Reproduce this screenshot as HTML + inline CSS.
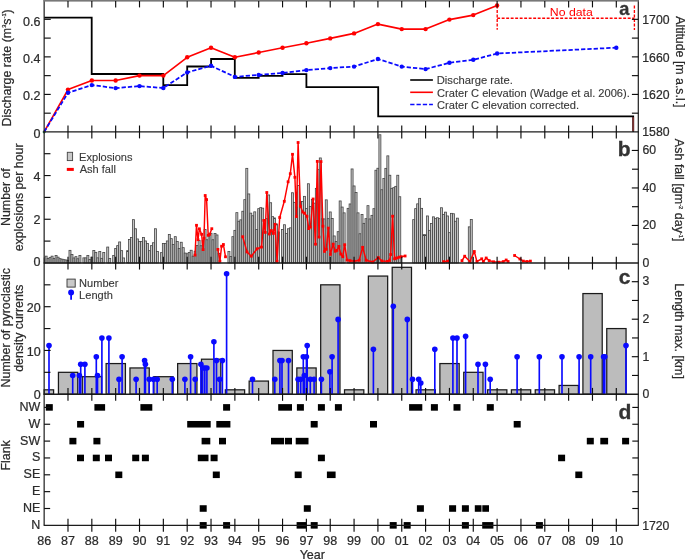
<!DOCTYPE html>
<html lang="en">
<head>
<meta charset="utf-8">
<title>Eruption time series</title>
<style>
html,body{margin:0;padding:0;background:#fff;}
body{width:685px;height:560px;overflow:hidden;}
svg{display:block;will-change:transform;}
</style>
</head>
<body>
<svg width="685" height="560" viewBox="0 0 685 560" font-family="'Liberation Sans', Arial, Helvetica, sans-serif" font-size="12" fill="#2a2a2a">
<style>text{stroke:#2a2a2a;stroke-width:0.22px;paint-order:stroke;}</style>
<rect x="0" y="0" width="685" height="560" fill="#ffffff"/>
<g fill="#c6c6c6" stroke="#444444" stroke-width="0.8">
<rect x="44.15" y="257.95" width="0.99" height="5"/>
<rect x="45.14" y="256.15" width="1.99" height="6.8"/>
<rect x="47.13" y="258.45" width="1.99" height="4.5"/>
<rect x="49.12" y="257.35" width="1.99" height="5.6"/>
<rect x="51.1" y="256.15" width="1.99" height="6.8"/>
<rect x="53.09" y="258.45" width="1.99" height="4.5"/>
<rect x="55.08" y="255.55" width="1.99" height="7.4"/>
<rect x="57.06" y="257.15" width="1.99" height="5.8"/>
<rect x="59.05" y="258.65" width="1.99" height="4.3"/>
<rect x="61.04" y="259.15" width="1.99" height="3.8"/>
<rect x="63.02" y="259.65" width="1.99" height="3.3"/>
<rect x="65.01" y="259.95" width="1.99" height="3"/>
<rect x="67" y="260.45" width="1.99" height="2.5"/>
<rect x="68.98" y="250.35" width="1.99" height="12.6"/>
<rect x="70.97" y="254.55" width="1.99" height="8.4"/>
<rect x="72.96" y="257.95" width="1.99" height="5"/>
<rect x="74.94" y="256.65" width="1.99" height="6.3"/>
<rect x="76.93" y="258.75" width="1.99" height="4.2"/>
<rect x="78.92" y="255.45" width="1.99" height="7.5"/>
<rect x="82.89" y="257.85" width="1.99" height="5.1"/>
<rect x="84.88" y="257.85" width="1.99" height="5.1"/>
<rect x="86.86" y="255.45" width="1.99" height="7.5"/>
<rect x="88.85" y="259.55" width="1.99" height="3.4"/>
<rect x="90.84" y="257.15" width="1.99" height="5.8"/>
<rect x="92.82" y="250.55" width="1.99" height="12.4"/>
<rect x="94.81" y="252.35" width="1.99" height="10.6"/>
<rect x="96.8" y="257.85" width="1.99" height="5.1"/>
<rect x="98.78" y="251.55" width="1.99" height="11.4"/>
<rect x="100.77" y="258.35" width="1.99" height="4.6"/>
<rect x="102.76" y="252.55" width="1.99" height="10.4"/>
<rect x="106.73" y="247.05" width="1.99" height="15.9"/>
<rect x="108.72" y="258.55" width="1.99" height="4.4"/>
<rect x="112.69" y="255.45" width="1.99" height="7.5"/>
<rect x="114.68" y="248.55" width="1.99" height="14.4"/>
<rect x="116.66" y="245.65" width="1.99" height="17.3"/>
<rect x="118.65" y="241.95" width="1.99" height="21"/>
<rect x="120.64" y="250.65" width="1.99" height="12.3"/>
<rect x="122.62" y="257.95" width="1.99" height="5"/>
<rect x="126.6" y="250.65" width="1.99" height="12.3"/>
<rect x="128.58" y="239.55" width="1.99" height="23.4"/>
<rect x="130.57" y="237.45" width="1.99" height="25.5"/>
<rect x="132.56" y="219.65" width="1.99" height="43.3"/>
<rect x="134.54" y="228.75" width="1.99" height="34.2"/>
<rect x="136.53" y="238.95" width="1.99" height="24"/>
<rect x="138.52" y="241.55" width="1.99" height="21.4"/>
<rect x="140.5" y="241.55" width="1.99" height="21.4"/>
<rect x="142.49" y="237.45" width="1.99" height="25.5"/>
<rect x="144.48" y="240.95" width="1.99" height="22"/>
<rect x="146.46" y="243.55" width="1.99" height="19.4"/>
<rect x="148.45" y="250.65" width="1.99" height="12.3"/>
<rect x="150.44" y="245.65" width="1.99" height="17.3"/>
<rect x="152.42" y="242.75" width="1.99" height="20.2"/>
<rect x="154.41" y="228.75" width="1.99" height="34.2"/>
<rect x="156.4" y="251.55" width="1.99" height="11.4"/>
<rect x="160.37" y="252.65" width="1.99" height="10.3"/>
<rect x="162.36" y="243.55" width="1.99" height="19.4"/>
<rect x="164.34" y="243.55" width="1.99" height="19.4"/>
<rect x="166.33" y="240.95" width="1.99" height="22"/>
<rect x="168.32" y="234.55" width="1.99" height="28.4"/>
<rect x="170.3" y="238.65" width="1.99" height="24.3"/>
<rect x="172.29" y="244.45" width="1.99" height="18.5"/>
<rect x="174.28" y="236.65" width="1.99" height="26.3"/>
<rect x="176.26" y="241.55" width="1.99" height="21.4"/>
<rect x="178.25" y="248.55" width="1.99" height="14.4"/>
<rect x="180.24" y="242.25" width="1.99" height="20.7"/>
<rect x="182.22" y="247.65" width="1.99" height="15.3"/>
<rect x="184.21" y="253.05" width="1.99" height="9.9"/>
<rect x="186.2" y="253.75" width="1.99" height="9.2"/>
<rect x="188.18" y="252.45" width="1.99" height="10.5"/>
<rect x="190.17" y="250.25" width="1.99" height="12.7"/>
<rect x="192.16" y="256.15" width="1.99" height="6.8"/>
<rect x="194.14" y="251.25" width="1.99" height="11.7"/>
<rect x="196.13" y="245.45" width="1.99" height="17.5"/>
<rect x="198.12" y="240.35" width="1.99" height="22.6"/>
<rect x="200.1" y="245.75" width="1.99" height="17.2"/>
<rect x="202.09" y="240.35" width="1.99" height="22.6"/>
<rect x="204.08" y="229.55" width="1.99" height="33.4"/>
<rect x="206.06" y="239.75" width="1.99" height="23.2"/>
<rect x="208.05" y="235.95" width="1.99" height="27"/>
<rect x="210.04" y="233.25" width="1.99" height="29.7"/>
<rect x="212.02" y="239.75" width="1.99" height="23.2"/>
<rect x="214.01" y="233.45" width="1.99" height="29.5"/>
<rect x="216" y="234.95" width="1.99" height="28"/>
<rect x="217.98" y="253.45" width="1.99" height="9.5"/>
<rect x="227.92" y="251.55" width="1.99" height="11.4"/>
<rect x="229.9" y="256.55" width="1.99" height="6.4"/>
<rect x="231.89" y="236.65" width="1.99" height="26.3"/>
<rect x="233.88" y="230.35" width="1.99" height="32.6"/>
<rect x="235.86" y="212.65" width="1.99" height="50.3"/>
<rect x="237.85" y="221.25" width="1.99" height="41.7"/>
<rect x="239.84" y="219.85" width="1.99" height="43.1"/>
<rect x="241.82" y="211.25" width="1.99" height="51.7"/>
<rect x="243.81" y="199.65" width="1.99" height="63.3"/>
<rect x="245.8" y="168.35" width="1.99" height="94.6"/>
<rect x="247.78" y="193.95" width="1.99" height="69"/>
<rect x="249.77" y="213.15" width="1.99" height="49.8"/>
<rect x="251.76" y="215.75" width="1.99" height="47.2"/>
<rect x="253.74" y="211.85" width="1.99" height="51.1"/>
<rect x="255.73" y="229.55" width="1.99" height="33.4"/>
<rect x="257.72" y="208.65" width="1.99" height="54.3"/>
<rect x="259.7" y="207.65" width="1.99" height="55.3"/>
<rect x="261.69" y="208.15" width="1.99" height="54.8"/>
<rect x="263.68" y="222.95" width="1.99" height="40"/>
<rect x="265.66" y="218.65" width="1.99" height="44.3"/>
<rect x="267.65" y="194.95" width="1.99" height="68"/>
<rect x="269.64" y="202.75" width="1.99" height="60.2"/>
<rect x="271.62" y="216.65" width="1.99" height="46.3"/>
<rect x="273.61" y="217.95" width="1.99" height="45"/>
<rect x="275.6" y="223.95" width="1.99" height="39"/>
<rect x="277.58" y="231.95" width="1.99" height="31"/>
<rect x="281.56" y="229.55" width="1.99" height="33.4"/>
<rect x="283.54" y="224.75" width="1.99" height="38.2"/>
<rect x="285.53" y="233.55" width="1.99" height="29.4"/>
<rect x="287.52" y="228.75" width="1.99" height="34.2"/>
<rect x="289.5" y="227.85" width="1.99" height="35.1"/>
<rect x="291.49" y="192.75" width="1.99" height="70.2"/>
<rect x="293.48" y="202.35" width="1.99" height="60.6"/>
<rect x="295.46" y="206.95" width="1.99" height="56"/>
<rect x="297.45" y="185.45" width="1.99" height="77.5"/>
<rect x="299.44" y="201.95" width="1.99" height="61"/>
<rect x="301.42" y="201.55" width="1.99" height="61.4"/>
<rect x="303.41" y="196.35" width="1.99" height="66.6"/>
<rect x="305.4" y="208.45" width="1.99" height="54.5"/>
<rect x="307.38" y="183.75" width="1.99" height="79.2"/>
<rect x="309.37" y="206.45" width="1.99" height="56.5"/>
<rect x="311.36" y="199.45" width="1.99" height="63.5"/>
<rect x="313.34" y="203.15" width="1.99" height="59.8"/>
<rect x="315.33" y="188.35" width="1.99" height="74.6"/>
<rect x="317.32" y="169.65" width="1.99" height="93.3"/>
<rect x="319.3" y="157.95" width="1.99" height="105"/>
<rect x="321.29" y="218.85" width="1.99" height="44.1"/>
<rect x="323.28" y="218.95" width="1.99" height="44"/>
<rect x="325.26" y="199.85" width="1.99" height="63.1"/>
<rect x="327.25" y="218.65" width="1.99" height="44.3"/>
<rect x="329.24" y="211.95" width="1.99" height="51"/>
<rect x="331.22" y="218.45" width="1.99" height="44.5"/>
<rect x="333.21" y="235.95" width="1.99" height="27"/>
<rect x="335.2" y="241.45" width="1.99" height="21.5"/>
<rect x="337.18" y="231.65" width="1.99" height="31.3"/>
<rect x="339.17" y="200.95" width="1.99" height="62"/>
<rect x="341.16" y="207.05" width="1.99" height="55.9"/>
<rect x="343.14" y="212.85" width="1.99" height="50.1"/>
<rect x="347.12" y="208.35" width="1.99" height="54.6"/>
<rect x="349.1" y="203.95" width="1.99" height="59"/>
<rect x="351.09" y="168.95" width="1.99" height="94"/>
<rect x="353.08" y="185.95" width="1.99" height="77"/>
<rect x="355.06" y="192.55" width="1.99" height="70.4"/>
<rect x="357.05" y="212.85" width="1.99" height="50.1"/>
<rect x="359.04" y="233.75" width="1.99" height="29.2"/>
<rect x="361.02" y="214.45" width="1.99" height="48.5"/>
<rect x="363.01" y="223.35" width="1.99" height="39.6"/>
<rect x="365" y="218.65" width="1.99" height="44.3"/>
<rect x="366.98" y="205.65" width="1.99" height="57.3"/>
<rect x="368.97" y="218.95" width="1.99" height="44"/>
<rect x="370.96" y="215.35" width="1.99" height="47.6"/>
<rect x="372.94" y="208.65" width="1.99" height="54.3"/>
<rect x="374.93" y="170.25" width="1.99" height="92.7"/>
<rect x="376.92" y="168.25" width="1.99" height="94.7"/>
<rect x="378.9" y="134.75" width="1.99" height="128.2"/>
<rect x="380.89" y="189.75" width="1.99" height="73.2"/>
<rect x="382.88" y="178.45" width="1.99" height="84.5"/>
<rect x="384.86" y="168.35" width="1.99" height="94.6"/>
<rect x="386.85" y="155.85" width="1.99" height="107.1"/>
<rect x="388.84" y="175.25" width="1.99" height="87.7"/>
<rect x="390.82" y="188.35" width="1.99" height="74.6"/>
<rect x="392.81" y="187.65" width="1.99" height="75.3"/>
<rect x="394.8" y="186.35" width="1.99" height="76.6"/>
<rect x="396.78" y="175.25" width="1.99" height="87.7"/>
<rect x="398.77" y="196.75" width="1.99" height="66.2"/>
<rect x="412.68" y="219.65" width="1.99" height="43.3"/>
<rect x="414.66" y="208.65" width="1.99" height="54.3"/>
<rect x="416.65" y="203.85" width="1.99" height="59.1"/>
<rect x="418.64" y="198.35" width="1.99" height="64.6"/>
<rect x="420.62" y="208.35" width="1.99" height="54.6"/>
<rect x="422.61" y="234.65" width="1.99" height="28.3"/>
<rect x="424.6" y="234.75" width="1.99" height="28.2"/>
<rect x="426.58" y="215.95" width="1.99" height="47"/>
<rect x="428.57" y="230.35" width="1.99" height="32.6"/>
<rect x="430.56" y="223.55" width="1.99" height="39.4"/>
<rect x="432.54" y="216.85" width="1.99" height="46.1"/>
<rect x="434.53" y="218.65" width="1.99" height="44.3"/>
<rect x="436.52" y="217.75" width="1.99" height="45.2"/>
<rect x="438.5" y="218.65" width="1.99" height="44.3"/>
<rect x="440.49" y="207.75" width="1.99" height="55.2"/>
<rect x="442.48" y="214.55" width="1.99" height="48.4"/>
<rect x="444.46" y="212.15" width="1.99" height="50.8"/>
<rect x="446.45" y="215.95" width="1.99" height="47"/>
<rect x="448.44" y="232.65" width="1.99" height="30.3"/>
<rect x="450.42" y="213.35" width="1.99" height="49.6"/>
<rect x="452.41" y="213.75" width="1.99" height="49.2"/>
<rect x="454.4" y="221.25" width="1.99" height="41.7"/>
<rect x="456.38" y="218.15" width="1.99" height="44.8"/>
<rect x="468.3" y="226.85" width="1.99" height="36.1"/>
<rect x="470.29" y="219.55" width="1.99" height="43.4"/>
</g>
<g fill="#bcbcbc" stroke="#1a1a1a" stroke-width="1.25">
<rect x="44.15" y="389.82" width="9.45" height="4.38"/>
<rect x="58.44" y="372.32" width="19.3" height="21.88"/>
<rect x="82.28" y="376.7" width="19.3" height="17.5"/>
<rect x="106.12" y="363.57" width="19.3" height="30.62"/>
<rect x="129.96" y="367.95" width="19.3" height="26.25"/>
<rect x="153.8" y="376.7" width="19.3" height="17.5"/>
<rect x="177.64" y="363.57" width="19.3" height="30.62"/>
<rect x="201.48" y="359.2" width="19.3" height="35"/>
<rect x="225.32" y="389.82" width="19.3" height="4.38"/>
<rect x="249.16" y="381.07" width="19.3" height="13.12"/>
<rect x="273" y="350.45" width="19.3" height="43.75"/>
<rect x="296.84" y="367.95" width="19.3" height="26.25"/>
<rect x="320.68" y="284.82" width="19.3" height="109.38"/>
<rect x="344.52" y="389.82" width="19.3" height="4.38"/>
<rect x="368.36" y="276.07" width="19.3" height="118.12"/>
<rect x="392.2" y="267.32" width="19.3" height="126.88"/>
<rect x="416.04" y="389.82" width="19.3" height="4.38"/>
<rect x="439.88" y="363.57" width="19.3" height="30.62"/>
<rect x="463.72" y="372.32" width="19.3" height="21.88"/>
<rect x="487.56" y="389.82" width="19.3" height="4.38"/>
<rect x="511.4" y="389.82" width="19.3" height="4.38"/>
<rect x="535.24" y="389.82" width="19.3" height="4.38"/>
<rect x="559.08" y="385.45" width="19.3" height="8.75"/>
<rect x="582.92" y="293.57" width="19.3" height="100.62"/>
<rect x="606.76" y="328.57" width="19.3" height="65.62"/>
</g>
<g stroke="#0a0aff" stroke-width="1.65" fill="#0a0aff">
<line x1="49" y1="345.58" x2="49" y2="394.2"/>
<line x1="72.7" y1="375.5" x2="72.7" y2="394.2"/>
<line x1="79.4" y1="375.5" x2="79.4" y2="394.2"/>
<line x1="80.7" y1="364.28" x2="80.7" y2="394.2"/>
<line x1="84.9" y1="364.28" x2="84.9" y2="394.2"/>
<line x1="96.3" y1="356.8" x2="96.3" y2="394.2"/>
<line x1="97.5" y1="375.5" x2="97.5" y2="394.2"/>
<line x1="101.9" y1="338.1" x2="101.9" y2="394.2"/>
<line x1="108.9" y1="338.1" x2="108.9" y2="394.2"/>
<line x1="119" y1="379.24" x2="119" y2="394.2"/>
<line x1="122.1" y1="356.8" x2="122.1" y2="394.2"/>
<line x1="136.1" y1="379.24" x2="136.1" y2="394.2"/>
<line x1="144.6" y1="360.54" x2="144.6" y2="394.2"/>
<line x1="145.4" y1="364.28" x2="145.4" y2="394.2"/>
<line x1="149.2" y1="379.24" x2="149.2" y2="394.2"/>
<line x1="153.4" y1="379.24" x2="153.4" y2="394.2"/>
<line x1="157.2" y1="379.24" x2="157.2" y2="394.2"/>
<line x1="172.3" y1="379.24" x2="172.3" y2="394.2"/>
<line x1="184.9" y1="379.24" x2="184.9" y2="394.2"/>
<line x1="190.6" y1="356.8" x2="190.6" y2="394.2"/>
<line x1="195.2" y1="379.24" x2="195.2" y2="394.2"/>
<line x1="200.9" y1="364.28" x2="200.9" y2="394.2"/>
<line x1="202.7" y1="368.02" x2="202.7" y2="394.2"/>
<line x1="204.8" y1="368.02" x2="204.8" y2="394.2"/>
<line x1="206.9" y1="368.02" x2="206.9" y2="394.2"/>
<line x1="213.9" y1="341.84" x2="213.9" y2="394.2"/>
<line x1="216.5" y1="360.54" x2="216.5" y2="394.2"/>
<line x1="219.6" y1="379.24" x2="219.6" y2="394.2"/>
<line x1="222.4" y1="360.54" x2="222.4" y2="394.2"/>
<line x1="226.6" y1="273.77" x2="226.6" y2="394.2"/>
<line x1="252.5" y1="379.24" x2="252.5" y2="394.2"/>
<line x1="274.8" y1="379.24" x2="274.8" y2="394.2"/>
<line x1="279.9" y1="360.54" x2="279.9" y2="394.2"/>
<line x1="282" y1="360.54" x2="282" y2="394.2"/>
<line x1="288.5" y1="360.54" x2="288.5" y2="394.2"/>
<line x1="298.1" y1="379.24" x2="298.1" y2="394.2"/>
<line x1="300.7" y1="379.24" x2="300.7" y2="394.2"/>
<line x1="303.3" y1="356.8" x2="303.3" y2="394.2"/>
<line x1="304.3" y1="375.5" x2="304.3" y2="394.2"/>
<line x1="306.4" y1="356.8" x2="306.4" y2="394.2"/>
<line x1="307.2" y1="345.58" x2="307.2" y2="394.2"/>
<line x1="310.3" y1="379.24" x2="310.3" y2="394.2"/>
<line x1="314.1" y1="379.24" x2="314.1" y2="394.2"/>
<line x1="321.4" y1="379.24" x2="321.4" y2="394.2"/>
<line x1="329.9" y1="371.76" x2="329.9" y2="394.2"/>
<line x1="332.1" y1="356.8" x2="332.1" y2="394.2"/>
<line x1="338.1" y1="319.4" x2="338.1" y2="394.2"/>
<line x1="373.4" y1="349.32" x2="373.4" y2="394.2"/>
<line x1="393.3" y1="306.31" x2="393.3" y2="394.2"/>
<line x1="407.3" y1="319.4" x2="407.3" y2="394.2"/>
<line x1="412.5" y1="379.24" x2="412.5" y2="394.2"/>
<line x1="418.7" y1="379.24" x2="418.7" y2="394.2"/>
<line x1="420.8" y1="382.98" x2="420.8" y2="394.2"/>
<line x1="434.8" y1="349.32" x2="434.8" y2="394.2"/>
<line x1="452.9" y1="338.1" x2="452.9" y2="394.2"/>
<line x1="457" y1="338.1" x2="457" y2="394.2"/>
<line x1="465.6" y1="336.23" x2="465.6" y2="394.2"/>
<line x1="478" y1="364.28" x2="478" y2="394.2"/>
<line x1="485.4" y1="364.28" x2="485.4" y2="394.2"/>
<line x1="490.2" y1="379.24" x2="490.2" y2="394.2"/>
<line x1="517.1" y1="356.8" x2="517.1" y2="394.2"/>
<line x1="539.3" y1="356.8" x2="539.3" y2="394.2"/>
<line x1="562" y1="356.8" x2="562" y2="394.2"/>
<line x1="579.1" y1="356.8" x2="579.1" y2="394.2"/>
<line x1="590.7" y1="356.8" x2="590.7" y2="394.2"/>
<line x1="603.6" y1="356.8" x2="603.6" y2="394.2"/>
<line x1="604.8" y1="356.8" x2="604.8" y2="394.2"/>
<line x1="626" y1="345.58" x2="626" y2="394.2"/>
</g>
<g fill="#0a0aff">
<circle cx="49" cy="345.58" r="2.8"/>
<circle cx="72.7" cy="375.5" r="2.8"/>
<circle cx="79.4" cy="375.5" r="2.8"/>
<circle cx="80.7" cy="364.28" r="2.8"/>
<circle cx="84.9" cy="364.28" r="2.8"/>
<circle cx="96.3" cy="356.8" r="2.8"/>
<circle cx="97.5" cy="375.5" r="2.8"/>
<circle cx="101.9" cy="338.1" r="2.8"/>
<circle cx="108.9" cy="338.1" r="2.8"/>
<circle cx="119" cy="379.24" r="2.8"/>
<circle cx="122.1" cy="356.8" r="2.8"/>
<circle cx="136.1" cy="379.24" r="2.8"/>
<circle cx="144.6" cy="360.54" r="2.8"/>
<circle cx="145.4" cy="364.28" r="2.8"/>
<circle cx="149.2" cy="379.24" r="2.8"/>
<circle cx="153.4" cy="379.24" r="2.8"/>
<circle cx="157.2" cy="379.24" r="2.8"/>
<circle cx="172.3" cy="379.24" r="2.8"/>
<circle cx="184.9" cy="379.24" r="2.8"/>
<circle cx="190.6" cy="356.8" r="2.8"/>
<circle cx="195.2" cy="379.24" r="2.8"/>
<circle cx="200.9" cy="364.28" r="2.8"/>
<circle cx="202.7" cy="368.02" r="2.8"/>
<circle cx="204.8" cy="368.02" r="2.8"/>
<circle cx="206.9" cy="368.02" r="2.8"/>
<circle cx="213.9" cy="341.84" r="2.8"/>
<circle cx="216.5" cy="360.54" r="2.8"/>
<circle cx="219.6" cy="379.24" r="2.8"/>
<circle cx="222.4" cy="360.54" r="2.8"/>
<circle cx="226.6" cy="273.77" r="2.8"/>
<circle cx="252.5" cy="379.24" r="2.8"/>
<circle cx="274.8" cy="379.24" r="2.8"/>
<circle cx="279.9" cy="360.54" r="2.8"/>
<circle cx="282" cy="360.54" r="2.8"/>
<circle cx="288.5" cy="360.54" r="2.8"/>
<circle cx="298.1" cy="379.24" r="2.8"/>
<circle cx="300.7" cy="379.24" r="2.8"/>
<circle cx="303.3" cy="356.8" r="2.8"/>
<circle cx="304.3" cy="375.5" r="2.8"/>
<circle cx="306.4" cy="356.8" r="2.8"/>
<circle cx="307.2" cy="345.58" r="2.8"/>
<circle cx="310.3" cy="379.24" r="2.8"/>
<circle cx="314.1" cy="379.24" r="2.8"/>
<circle cx="321.4" cy="379.24" r="2.8"/>
<circle cx="329.9" cy="371.76" r="2.8"/>
<circle cx="332.1" cy="356.8" r="2.8"/>
<circle cx="338.1" cy="319.4" r="2.8"/>
<circle cx="373.4" cy="349.32" r="2.8"/>
<circle cx="393.3" cy="306.31" r="2.8"/>
<circle cx="407.3" cy="319.4" r="2.8"/>
<circle cx="412.5" cy="379.24" r="2.8"/>
<circle cx="418.7" cy="379.24" r="2.8"/>
<circle cx="420.8" cy="382.98" r="2.8"/>
<circle cx="434.8" cy="349.32" r="2.8"/>
<circle cx="452.9" cy="338.1" r="2.8"/>
<circle cx="457" cy="338.1" r="2.8"/>
<circle cx="465.6" cy="336.23" r="2.8"/>
<circle cx="478" cy="364.28" r="2.8"/>
<circle cx="485.4" cy="364.28" r="2.8"/>
<circle cx="490.2" cy="379.24" r="2.8"/>
<circle cx="517.1" cy="356.8" r="2.8"/>
<circle cx="539.3" cy="356.8" r="2.8"/>
<circle cx="562" cy="356.8" r="2.8"/>
<circle cx="579.1" cy="356.8" r="2.8"/>
<circle cx="590.7" cy="356.8" r="2.8"/>
<circle cx="603.6" cy="356.8" r="2.8"/>
<circle cx="604.8" cy="356.8" r="2.8"/>
<circle cx="626" cy="345.58" r="2.8"/>
</g>
<g fill="#000000">
<rect x="45.8" y="404.13" width="7" height="6.55"/>
<rect x="94.4" y="404.13" width="10.7" height="6.55"/>
<rect x="140.4" y="404.13" width="11.9" height="6.55"/>
<rect x="223.1" y="404.13" width="7" height="6.55"/>
<rect x="278.2" y="404.13" width="13.8" height="6.55"/>
<rect x="296.9" y="404.13" width="7" height="6.55"/>
<rect x="317.9" y="404.13" width="7" height="6.55"/>
<rect x="334.9" y="404.13" width="7" height="6.55"/>
<rect x="409.1" y="404.13" width="13.2" height="6.55"/>
<rect x="430.9" y="404.13" width="7" height="6.55"/>
<rect x="453.5" y="404.13" width="7" height="6.55"/>
<rect x="486.8" y="404.13" width="7" height="6.55"/>
<rect x="77.1" y="420.98" width="7" height="6.55"/>
<rect x="187.2" y="420.98" width="23.5" height="6.55"/>
<rect x="216.3" y="420.98" width="14.1" height="6.55"/>
<rect x="310.7" y="420.98" width="7" height="6.55"/>
<rect x="370" y="420.98" width="7" height="6.55"/>
<rect x="513.7" y="420.98" width="7" height="6.55"/>
<rect x="69.4" y="437.83" width="7" height="6.55"/>
<rect x="93.4" y="437.83" width="7" height="6.55"/>
<rect x="201.6" y="437.83" width="8.7" height="6.55"/>
<rect x="219" y="437.83" width="7" height="6.55"/>
<rect x="271" y="437.83" width="13.1" height="6.55"/>
<rect x="285" y="437.83" width="7" height="6.55"/>
<rect x="295.7" y="437.83" width="12.8" height="6.55"/>
<rect x="586.8" y="437.83" width="7" height="6.55"/>
<rect x="600.3" y="437.83" width="7.8" height="6.55"/>
<rect x="622.1" y="437.83" width="7" height="6.55"/>
<rect x="77" y="454.68" width="7" height="6.55"/>
<rect x="92.8" y="454.68" width="7" height="6.55"/>
<rect x="105" y="454.68" width="7" height="6.55"/>
<rect x="132.2" y="454.68" width="7" height="6.55"/>
<rect x="141.9" y="454.68" width="7" height="6.55"/>
<rect x="197.8" y="454.68" width="10.7" height="6.55"/>
<rect x="210.6" y="454.68" width="7" height="6.55"/>
<rect x="317.9" y="454.68" width="7" height="6.55"/>
<rect x="558.1" y="454.68" width="7" height="6.55"/>
<rect x="115.3" y="471.53" width="7" height="6.55"/>
<rect x="212.8" y="471.53" width="7" height="6.55"/>
<rect x="294.7" y="471.53" width="7" height="6.55"/>
<rect x="326.9" y="471.53" width="8.7" height="6.55"/>
<rect x="575.3" y="471.53" width="7" height="6.55"/>
<rect x="199.7" y="505.23" width="7" height="6.55"/>
<rect x="303.8" y="505.23" width="7" height="6.55"/>
<rect x="416.9" y="505.23" width="7" height="6.55"/>
<rect x="449.1" y="505.23" width="7" height="6.55"/>
<rect x="461.9" y="505.23" width="7" height="6.55"/>
<rect x="474.8" y="505.23" width="6.7" height="6.55"/>
<rect x="482.3" y="505.23" width="6.7" height="6.55"/>
<rect x="199.7" y="522.08" width="7" height="6.55"/>
<rect x="223.1" y="522.08" width="7" height="6.55"/>
<rect x="296.6" y="522.08" width="9.7" height="6.55"/>
<rect x="310.7" y="522.08" width="7" height="6.55"/>
<rect x="389.7" y="522.08" width="7" height="6.55"/>
<rect x="403.7" y="522.08" width="7" height="6.55"/>
<rect x="461.9" y="522.08" width="7" height="6.55"/>
<rect x="482.2" y="522.08" width="11.2" height="6.55"/>
<rect x="535.9" y="522.08" width="7" height="6.55"/>
</g>
<polyline fill="none" stroke="#ff0000" stroke-width="1.45" stroke-linejoin="round" points="195,255.1 196.5,225.3 198,239.7 199.4,228.8 201.6,234.3 203.1,249.6 204,238.3 205.2,195.5 206.6,199.6 208.2,235.3 209.7,234.3 211.8,228.7"/>
<polyline fill="none" stroke="#ff0000" stroke-width="1.45" stroke-linejoin="round" points="217.9,249.4 219.9,261.2 221.6,246.2 223.4,244.5 225.5,256.8"/>
<polyline fill="none" stroke="#ff0000" stroke-width="1.45" stroke-linejoin="round" points="242.7,236.7 247,251.9 251.3,256.2 257.1,248.8 261.5,247.1 263.8,220.4 265.2,232.4 266.8,192.5 269.4,234 271.4,230.6 273.4,233.4 275.1,224.3 277,261.3 279.7,217.5 284.3,201.3 288.1,181.8 290.3,173.7 292.5,154.3 294.9,177.3 296.4,216.5 298.1,142.5 300.4,206.2 302.8,212.1 304.5,213.2 306.9,216.3 308.8,228.6 310.4,227.1 313.1,199 315.5,244.2 317.3,161.4 319,237.1 321,161.6 322.9,226.2 324.5,251.4 326.3,249.3 328.3,228.1 330.4,254.4 333.2,244.1 335.2,251.3 336.9,250.4 338.9,246.4 340.8,254.1 342.8,256.7 344.7,244.7 347.1,260.1 350.1,260.6 354.1,261.3 359.2,260.3 362.6,247.3 366.2,260.3 372.6,262 378.3,257.6 382,261 387.3,261.4 389.5,260.5 390.7,254.5 392.6,216.2 394.6,258.8 396.6,258 399,257.2 401.1,256.7 405.1,256"/>
<polyline fill="none" stroke="#ff0000" stroke-width="1.45" stroke-linejoin="round" points="443.7,261.6 447.7,261.1"/>
<polyline fill="none" stroke="#ff0000" stroke-width="1.45" stroke-linejoin="round" points="462,260.6 464.7,256.2 469.9,261.5 474.3,251.5 476.9,261.5 481.7,258.8 483.4,261.5 486.2,258 489.2,260.6 493.6,261.8 498.8,262.2 503.2,261.6 506.2,260 508.1,261.5"/>
<polyline fill="none" stroke="#ff0000" stroke-width="1.45" stroke-linejoin="round" points="514.6,255.5 519.9,259 523.4,261.1 526.9,261.5 530.4,261.1"/>
<g fill="#ff0000">
<rect x="193.6" y="253.7" width="2.8" height="2.8"/>
<rect x="195.1" y="223.9" width="2.8" height="2.8"/>
<rect x="196.6" y="238.3" width="2.8" height="2.8"/>
<rect x="198" y="227.4" width="2.8" height="2.8"/>
<rect x="200.2" y="232.9" width="2.8" height="2.8"/>
<rect x="201.7" y="248.2" width="2.8" height="2.8"/>
<rect x="202.6" y="236.9" width="2.8" height="2.8"/>
<rect x="203.8" y="194.1" width="2.8" height="2.8"/>
<rect x="205.2" y="198.2" width="2.8" height="2.8"/>
<rect x="206.8" y="233.9" width="2.8" height="2.8"/>
<rect x="208.3" y="232.9" width="2.8" height="2.8"/>
<rect x="210.4" y="227.3" width="2.8" height="2.8"/>
<rect x="216.5" y="248" width="2.8" height="2.8"/>
<rect x="218.5" y="259.8" width="2.8" height="2.8"/>
<rect x="220.2" y="244.8" width="2.8" height="2.8"/>
<rect x="222" y="243.1" width="2.8" height="2.8"/>
<rect x="224.1" y="255.4" width="2.8" height="2.8"/>
<rect x="241.3" y="235.3" width="2.8" height="2.8"/>
<rect x="245.6" y="250.5" width="2.8" height="2.8"/>
<rect x="249.9" y="254.8" width="2.8" height="2.8"/>
<rect x="255.7" y="247.4" width="2.8" height="2.8"/>
<rect x="260.1" y="245.7" width="2.8" height="2.8"/>
<rect x="262.4" y="219" width="2.8" height="2.8"/>
<rect x="263.8" y="231" width="2.8" height="2.8"/>
<rect x="265.4" y="191.1" width="2.8" height="2.8"/>
<rect x="268" y="232.6" width="2.8" height="2.8"/>
<rect x="270" y="229.2" width="2.8" height="2.8"/>
<rect x="272" y="232" width="2.8" height="2.8"/>
<rect x="273.7" y="222.9" width="2.8" height="2.8"/>
<rect x="275.6" y="259.9" width="2.8" height="2.8"/>
<rect x="278.3" y="216.1" width="2.8" height="2.8"/>
<rect x="282.9" y="199.9" width="2.8" height="2.8"/>
<rect x="286.7" y="180.4" width="2.8" height="2.8"/>
<rect x="288.9" y="172.3" width="2.8" height="2.8"/>
<rect x="291.1" y="152.9" width="2.8" height="2.8"/>
<rect x="293.5" y="175.9" width="2.8" height="2.8"/>
<rect x="295" y="215.1" width="2.8" height="2.8"/>
<rect x="296.7" y="141.1" width="2.8" height="2.8"/>
<rect x="299" y="204.8" width="2.8" height="2.8"/>
<rect x="301.4" y="210.7" width="2.8" height="2.8"/>
<rect x="303.1" y="211.8" width="2.8" height="2.8"/>
<rect x="305.5" y="214.9" width="2.8" height="2.8"/>
<rect x="307.4" y="227.2" width="2.8" height="2.8"/>
<rect x="309" y="225.7" width="2.8" height="2.8"/>
<rect x="311.7" y="197.6" width="2.8" height="2.8"/>
<rect x="314.1" y="242.8" width="2.8" height="2.8"/>
<rect x="315.9" y="160" width="2.8" height="2.8"/>
<rect x="317.6" y="235.7" width="2.8" height="2.8"/>
<rect x="319.6" y="160.2" width="2.8" height="2.8"/>
<rect x="321.5" y="224.8" width="2.8" height="2.8"/>
<rect x="323.1" y="250" width="2.8" height="2.8"/>
<rect x="324.9" y="247.9" width="2.8" height="2.8"/>
<rect x="326.9" y="226.7" width="2.8" height="2.8"/>
<rect x="329" y="253" width="2.8" height="2.8"/>
<rect x="331.8" y="242.7" width="2.8" height="2.8"/>
<rect x="333.8" y="249.9" width="2.8" height="2.8"/>
<rect x="335.5" y="249" width="2.8" height="2.8"/>
<rect x="337.5" y="245" width="2.8" height="2.8"/>
<rect x="339.4" y="252.7" width="2.8" height="2.8"/>
<rect x="341.4" y="255.3" width="2.8" height="2.8"/>
<rect x="343.3" y="243.3" width="2.8" height="2.8"/>
<rect x="345.7" y="258.7" width="2.8" height="2.8"/>
<rect x="348.7" y="259.2" width="2.8" height="2.8"/>
<rect x="352.7" y="259.9" width="2.8" height="2.8"/>
<rect x="357.8" y="258.9" width="2.8" height="2.8"/>
<rect x="361.2" y="245.9" width="2.8" height="2.8"/>
<rect x="364.8" y="258.9" width="2.8" height="2.8"/>
<rect x="371.2" y="260.6" width="2.8" height="2.8"/>
<rect x="376.9" y="256.2" width="2.8" height="2.8"/>
<rect x="380.6" y="259.6" width="2.8" height="2.8"/>
<rect x="385.9" y="260" width="2.8" height="2.8"/>
<rect x="388.1" y="259.1" width="2.8" height="2.8"/>
<rect x="389.3" y="253.1" width="2.8" height="2.8"/>
<rect x="391.2" y="214.8" width="2.8" height="2.8"/>
<rect x="393.2" y="257.4" width="2.8" height="2.8"/>
<rect x="395.2" y="256.6" width="2.8" height="2.8"/>
<rect x="397.6" y="255.8" width="2.8" height="2.8"/>
<rect x="399.7" y="255.3" width="2.8" height="2.8"/>
<rect x="403.7" y="254.6" width="2.8" height="2.8"/>
<rect x="442.3" y="260.2" width="2.8" height="2.8"/>
<rect x="446.3" y="259.7" width="2.8" height="2.8"/>
<rect x="460.6" y="259.2" width="2.8" height="2.8"/>
<rect x="463.3" y="254.8" width="2.8" height="2.8"/>
<rect x="468.5" y="260.1" width="2.8" height="2.8"/>
<rect x="472.9" y="250.1" width="2.8" height="2.8"/>
<rect x="475.5" y="260.1" width="2.8" height="2.8"/>
<rect x="480.3" y="257.4" width="2.8" height="2.8"/>
<rect x="482" y="260.1" width="2.8" height="2.8"/>
<rect x="484.8" y="256.6" width="2.8" height="2.8"/>
<rect x="487.8" y="259.2" width="2.8" height="2.8"/>
<rect x="492.2" y="260.4" width="2.8" height="2.8"/>
<rect x="497.4" y="260.8" width="2.8" height="2.8"/>
<rect x="501.8" y="260.2" width="2.8" height="2.8"/>
<rect x="504.8" y="258.6" width="2.8" height="2.8"/>
<rect x="506.7" y="260.1" width="2.8" height="2.8"/>
<rect x="513.2" y="254.1" width="2.8" height="2.8"/>
<rect x="518.5" y="257.6" width="2.8" height="2.8"/>
<rect x="522" y="259.7" width="2.8" height="2.8"/>
<rect x="525.5" y="260.1" width="2.8" height="2.8"/>
<rect x="529" y="259.7" width="2.8" height="2.8"/>
</g>
<rect x="42.9" y="130.6" width="2.6" height="2.6" fill="#0b7a33" transform="rotate(45 44.2 131.9)"/>
<polyline fill="none" stroke="#000000" stroke-width="1.8" stroke-linejoin="miter" points="44.15,17.7 91.7,17.7 91.7,74 163.3,74 163.3,85.2 187.2,85.2 187.2,66.5 211.1,66.5 211.1,59 234.8,59 234.8,77.8 258.7,77.8 258.7,75.9 282.5,75.9 282.5,74.1 306.4,74.1 306.4,87.2 378.2,87.2 378.2,116.3 633.2,116.3 633.2,131.9"/>
<polyline fill="none" stroke="#ff0000" stroke-width="1.65" stroke-linejoin="round" points="44.15,131.9 67.99,89.6 91.83,80.5 115.67,80.5 139.51,75.6 163.35,75.6 187.19,57.3 211.03,47.7 234.87,57.3 258.71,52.5 282.55,47.7 306.39,43.2 330.23,38.4 354.07,33.4 377.91,24.1 401.75,29.1 425.59,29.1 449.43,19.6 473.27,15.1 497.11,5.5"/>
<g fill="#ff0000">
<circle cx="67.99" cy="89.6" r="2.2"/>
<circle cx="91.83" cy="80.5" r="2.2"/>
<circle cx="115.67" cy="80.5" r="2.2"/>
<circle cx="139.51" cy="75.6" r="2.2"/>
<circle cx="163.35" cy="75.6" r="2.2"/>
<circle cx="187.19" cy="57.3" r="2.2"/>
<circle cx="211.03" cy="47.7" r="2.2"/>
<circle cx="234.87" cy="57.3" r="2.2"/>
<circle cx="258.71" cy="52.5" r="2.2"/>
<circle cx="282.55" cy="47.7" r="2.2"/>
<circle cx="306.39" cy="43.2" r="2.2"/>
<circle cx="330.23" cy="38.4" r="2.2"/>
<circle cx="354.07" cy="33.4" r="2.2"/>
<circle cx="377.91" cy="24.1" r="2.2"/>
<circle cx="401.75" cy="29.1" r="2.2"/>
<circle cx="425.59" cy="29.1" r="2.2"/>
<circle cx="449.43" cy="19.6" r="2.2"/>
<circle cx="473.27" cy="15.1" r="2.2"/>
<circle cx="497.11" cy="5.5" r="2.2"/>
</g>
<polyline fill="none" stroke="#0a0aff" stroke-width="1.75" stroke-dasharray="4.3 2" points="44.15,131.9 67.99,92.8 91.83,85.1 115.67,88.1 139.51,86.1 163.35,88 187.19,72.4 211.03,65.8 234.87,76.9 258.71,74.9 282.55,72.9 306.39,70.1 330.23,68.1 354.07,66.6 377.91,59 401.75,66.6 425.59,69.1 449.43,62.8 473.27,59.8 497.11,53.5 616.3,47.7"/>
<g fill="#0a0aff">
<circle cx="67.99" cy="92.8" r="2.2"/>
<circle cx="91.83" cy="85.1" r="2.2"/>
<circle cx="115.67" cy="88.1" r="2.2"/>
<circle cx="139.51" cy="86.1" r="2.2"/>
<circle cx="163.35" cy="88" r="2.2"/>
<circle cx="187.19" cy="72.4" r="2.2"/>
<circle cx="211.03" cy="65.8" r="2.2"/>
<circle cx="234.87" cy="76.9" r="2.2"/>
<circle cx="258.71" cy="74.9" r="2.2"/>
<circle cx="282.55" cy="72.9" r="2.2"/>
<circle cx="306.39" cy="70.1" r="2.2"/>
<circle cx="330.23" cy="68.1" r="2.2"/>
<circle cx="354.07" cy="66.6" r="2.2"/>
<circle cx="377.91" cy="59" r="2.2"/>
<circle cx="401.75" cy="66.6" r="2.2"/>
<circle cx="425.59" cy="69.1" r="2.2"/>
<circle cx="449.43" cy="62.8" r="2.2"/>
<circle cx="473.27" cy="59.8" r="2.2"/>
<circle cx="497.11" cy="53.5" r="2.2"/>
<circle cx="616.3" cy="47.7" r="2.2"/>
</g>
<line x1="633.2" y1="117.2" x2="633.2" y2="131.2" stroke="#7a3232" stroke-width="1.8"/>
<g stroke="#ff0000" stroke-width="1.35" stroke-dasharray="2.9 1.6" fill="none">
<line x1="497.2" y1="5.5" x2="497.2" y2="29.8"/>
<line x1="497.2" y1="18.2" x2="634.4" y2="18.2"/>
<line x1="634.4" y1="5.6" x2="634.4" y2="29.9"/>
</g>
<g stroke="#1c1c1c" stroke-width="1.2" fill="none">
<line x1="44.15" y1="0" x2="44.15" y2="525.35"/>
<line x1="638.3" y1="0" x2="638.3" y2="525.35"/>
<line x1="43.65" y1="131.8" x2="638.8" y2="131.8" stroke-width="1.35"/>
<line x1="43.65" y1="262.95" x2="638.8" y2="262.95" stroke-width="1.35"/>
<line x1="43.65" y1="394.2" x2="638.8" y2="394.2" stroke-width="1.35"/>
<line x1="43.65" y1="525.35" x2="638.8" y2="525.35" stroke-width="1.35"/>
</g>
<rect x="43.65" y="0" width="595.15" height="1.6" fill="#787878"/>
<g stroke="#0d0d0d" stroke-width="1.15" fill="none">
<line x1="67.99" y1="1" x2="67.99" y2="7.4"/>
<line x1="67.99" y1="125.5" x2="67.99" y2="138.4"/>
<line x1="67.99" y1="256.65" x2="67.99" y2="269.55"/>
<line x1="67.99" y1="387.9" x2="67.99" y2="400.8"/>
<line x1="67.99" y1="518.65" x2="67.99" y2="531.85"/>
<line x1="91.83" y1="1" x2="91.83" y2="7.4"/>
<line x1="91.83" y1="125.5" x2="91.83" y2="138.4"/>
<line x1="91.83" y1="256.65" x2="91.83" y2="269.55"/>
<line x1="91.83" y1="387.9" x2="91.83" y2="400.8"/>
<line x1="91.83" y1="518.65" x2="91.83" y2="531.85"/>
<line x1="115.67" y1="1" x2="115.67" y2="7.4"/>
<line x1="115.67" y1="125.5" x2="115.67" y2="138.4"/>
<line x1="115.67" y1="256.65" x2="115.67" y2="269.55"/>
<line x1="115.67" y1="387.9" x2="115.67" y2="400.8"/>
<line x1="115.67" y1="518.65" x2="115.67" y2="531.85"/>
<line x1="139.51" y1="1" x2="139.51" y2="7.4"/>
<line x1="139.51" y1="125.5" x2="139.51" y2="138.4"/>
<line x1="139.51" y1="256.65" x2="139.51" y2="269.55"/>
<line x1="139.51" y1="387.9" x2="139.51" y2="400.8"/>
<line x1="139.51" y1="518.65" x2="139.51" y2="531.85"/>
<line x1="163.35" y1="1" x2="163.35" y2="7.4"/>
<line x1="163.35" y1="125.5" x2="163.35" y2="138.4"/>
<line x1="163.35" y1="256.65" x2="163.35" y2="269.55"/>
<line x1="163.35" y1="387.9" x2="163.35" y2="400.8"/>
<line x1="163.35" y1="518.65" x2="163.35" y2="531.85"/>
<line x1="187.19" y1="1" x2="187.19" y2="7.4"/>
<line x1="187.19" y1="125.5" x2="187.19" y2="138.4"/>
<line x1="187.19" y1="256.65" x2="187.19" y2="269.55"/>
<line x1="187.19" y1="387.9" x2="187.19" y2="400.8"/>
<line x1="187.19" y1="518.65" x2="187.19" y2="531.85"/>
<line x1="211.03" y1="1" x2="211.03" y2="7.4"/>
<line x1="211.03" y1="125.5" x2="211.03" y2="138.4"/>
<line x1="211.03" y1="256.65" x2="211.03" y2="269.55"/>
<line x1="211.03" y1="387.9" x2="211.03" y2="400.8"/>
<line x1="211.03" y1="518.65" x2="211.03" y2="531.85"/>
<line x1="234.87" y1="1" x2="234.87" y2="7.4"/>
<line x1="234.87" y1="125.5" x2="234.87" y2="138.4"/>
<line x1="234.87" y1="256.65" x2="234.87" y2="269.55"/>
<line x1="234.87" y1="387.9" x2="234.87" y2="400.8"/>
<line x1="234.87" y1="518.65" x2="234.87" y2="531.85"/>
<line x1="258.71" y1="1" x2="258.71" y2="7.4"/>
<line x1="258.71" y1="125.5" x2="258.71" y2="138.4"/>
<line x1="258.71" y1="256.65" x2="258.71" y2="269.55"/>
<line x1="258.71" y1="387.9" x2="258.71" y2="400.8"/>
<line x1="258.71" y1="518.65" x2="258.71" y2="531.85"/>
<line x1="282.55" y1="1" x2="282.55" y2="7.4"/>
<line x1="282.55" y1="125.5" x2="282.55" y2="138.4"/>
<line x1="282.55" y1="256.65" x2="282.55" y2="269.55"/>
<line x1="282.55" y1="387.9" x2="282.55" y2="400.8"/>
<line x1="282.55" y1="518.65" x2="282.55" y2="531.85"/>
<line x1="306.39" y1="1" x2="306.39" y2="7.4"/>
<line x1="306.39" y1="125.5" x2="306.39" y2="138.4"/>
<line x1="306.39" y1="256.65" x2="306.39" y2="269.55"/>
<line x1="306.39" y1="387.9" x2="306.39" y2="400.8"/>
<line x1="306.39" y1="518.65" x2="306.39" y2="531.85"/>
<line x1="330.23" y1="1" x2="330.23" y2="7.4"/>
<line x1="330.23" y1="125.5" x2="330.23" y2="138.4"/>
<line x1="330.23" y1="256.65" x2="330.23" y2="269.55"/>
<line x1="330.23" y1="387.9" x2="330.23" y2="400.8"/>
<line x1="330.23" y1="518.65" x2="330.23" y2="531.85"/>
<line x1="354.07" y1="1" x2="354.07" y2="7.4"/>
<line x1="354.07" y1="125.5" x2="354.07" y2="138.4"/>
<line x1="354.07" y1="256.65" x2="354.07" y2="269.55"/>
<line x1="354.07" y1="387.9" x2="354.07" y2="400.8"/>
<line x1="354.07" y1="518.65" x2="354.07" y2="531.85"/>
<line x1="377.91" y1="1" x2="377.91" y2="7.4"/>
<line x1="377.91" y1="125.5" x2="377.91" y2="138.4"/>
<line x1="377.91" y1="256.65" x2="377.91" y2="269.55"/>
<line x1="377.91" y1="387.9" x2="377.91" y2="400.8"/>
<line x1="377.91" y1="518.65" x2="377.91" y2="531.85"/>
<line x1="401.75" y1="1" x2="401.75" y2="7.4"/>
<line x1="401.75" y1="125.5" x2="401.75" y2="138.4"/>
<line x1="401.75" y1="256.65" x2="401.75" y2="269.55"/>
<line x1="401.75" y1="387.9" x2="401.75" y2="400.8"/>
<line x1="401.75" y1="518.65" x2="401.75" y2="531.85"/>
<line x1="425.59" y1="1" x2="425.59" y2="7.4"/>
<line x1="425.59" y1="125.5" x2="425.59" y2="138.4"/>
<line x1="425.59" y1="256.65" x2="425.59" y2="269.55"/>
<line x1="425.59" y1="387.9" x2="425.59" y2="400.8"/>
<line x1="425.59" y1="518.65" x2="425.59" y2="531.85"/>
<line x1="449.43" y1="1" x2="449.43" y2="7.4"/>
<line x1="449.43" y1="125.5" x2="449.43" y2="138.4"/>
<line x1="449.43" y1="256.65" x2="449.43" y2="269.55"/>
<line x1="449.43" y1="387.9" x2="449.43" y2="400.8"/>
<line x1="449.43" y1="518.65" x2="449.43" y2="531.85"/>
<line x1="473.27" y1="1" x2="473.27" y2="7.4"/>
<line x1="473.27" y1="125.5" x2="473.27" y2="138.4"/>
<line x1="473.27" y1="256.65" x2="473.27" y2="269.55"/>
<line x1="473.27" y1="387.9" x2="473.27" y2="400.8"/>
<line x1="473.27" y1="518.65" x2="473.27" y2="531.85"/>
<line x1="497.11" y1="1" x2="497.11" y2="7.4"/>
<line x1="497.11" y1="125.5" x2="497.11" y2="138.4"/>
<line x1="497.11" y1="256.65" x2="497.11" y2="269.55"/>
<line x1="497.11" y1="387.9" x2="497.11" y2="400.8"/>
<line x1="497.11" y1="518.65" x2="497.11" y2="531.85"/>
<line x1="520.95" y1="1" x2="520.95" y2="7.4"/>
<line x1="520.95" y1="125.5" x2="520.95" y2="138.4"/>
<line x1="520.95" y1="256.65" x2="520.95" y2="269.55"/>
<line x1="520.95" y1="387.9" x2="520.95" y2="400.8"/>
<line x1="520.95" y1="518.65" x2="520.95" y2="531.85"/>
<line x1="544.79" y1="1" x2="544.79" y2="7.4"/>
<line x1="544.79" y1="125.5" x2="544.79" y2="138.4"/>
<line x1="544.79" y1="256.65" x2="544.79" y2="269.55"/>
<line x1="544.79" y1="387.9" x2="544.79" y2="400.8"/>
<line x1="544.79" y1="518.65" x2="544.79" y2="531.85"/>
<line x1="568.63" y1="1" x2="568.63" y2="7.4"/>
<line x1="568.63" y1="125.5" x2="568.63" y2="138.4"/>
<line x1="568.63" y1="256.65" x2="568.63" y2="269.55"/>
<line x1="568.63" y1="387.9" x2="568.63" y2="400.8"/>
<line x1="568.63" y1="518.65" x2="568.63" y2="531.85"/>
<line x1="592.47" y1="1" x2="592.47" y2="7.4"/>
<line x1="592.47" y1="125.5" x2="592.47" y2="138.4"/>
<line x1="592.47" y1="256.65" x2="592.47" y2="269.55"/>
<line x1="592.47" y1="387.9" x2="592.47" y2="400.8"/>
<line x1="592.47" y1="518.65" x2="592.47" y2="531.85"/>
<line x1="616.31" y1="1" x2="616.31" y2="7.4"/>
<line x1="616.31" y1="125.5" x2="616.31" y2="138.4"/>
<line x1="616.31" y1="256.65" x2="616.31" y2="269.55"/>
<line x1="616.31" y1="387.9" x2="616.31" y2="400.8"/>
<line x1="616.31" y1="518.65" x2="616.31" y2="531.85"/>
<line x1="44.15" y1="113.18" x2="50.75" y2="113.18"/>
<line x1="638.3" y1="113.18" x2="631.9" y2="113.18"/>
<line x1="44.15" y1="94.41" x2="50.75" y2="94.41"/>
<line x1="638.3" y1="94.41" x2="631.9" y2="94.41"/>
<line x1="44.15" y1="75.64" x2="50.75" y2="75.64"/>
<line x1="638.3" y1="75.64" x2="631.9" y2="75.64"/>
<line x1="44.15" y1="56.87" x2="50.75" y2="56.87"/>
<line x1="638.3" y1="56.87" x2="631.9" y2="56.87"/>
<line x1="44.15" y1="38.1" x2="50.75" y2="38.1"/>
<line x1="638.3" y1="38.1" x2="631.9" y2="38.1"/>
<line x1="44.15" y1="19.33" x2="50.75" y2="19.33"/>
<line x1="638.3" y1="19.33" x2="631.9" y2="19.33"/>
<line x1="44.15" y1="241.1" x2="50.45" y2="241.1"/>
<line x1="44.15" y1="219.25" x2="50.65" y2="219.25"/>
<line x1="44.15" y1="197.4" x2="50.45" y2="197.4"/>
<line x1="44.15" y1="175.55" x2="50.65" y2="175.55"/>
<line x1="44.15" y1="153.7" x2="50.45" y2="153.7"/>
<line x1="638.3" y1="244.2" x2="632" y2="244.2"/>
<line x1="638.3" y1="225.45" x2="631.8" y2="225.45"/>
<line x1="638.3" y1="206.7" x2="632" y2="206.7"/>
<line x1="638.3" y1="187.95" x2="631.8" y2="187.95"/>
<line x1="638.3" y1="169.2" x2="632" y2="169.2"/>
<line x1="638.3" y1="150.45" x2="631.8" y2="150.45"/>
<line x1="44.15" y1="372.32" x2="50.45" y2="372.32"/>
<line x1="44.15" y1="350.45" x2="50.65" y2="350.45"/>
<line x1="44.15" y1="328.57" x2="50.45" y2="328.57"/>
<line x1="44.15" y1="306.7" x2="50.65" y2="306.7"/>
<line x1="44.15" y1="284.82" x2="50.45" y2="284.82"/>
<line x1="638.3" y1="375.45" x2="632" y2="375.45"/>
<line x1="638.3" y1="356.7" x2="631.8" y2="356.7"/>
<line x1="638.3" y1="337.95" x2="632" y2="337.95"/>
<line x1="638.3" y1="319.2" x2="631.8" y2="319.2"/>
<line x1="638.3" y1="300.45" x2="632" y2="300.45"/>
<line x1="638.3" y1="281.7" x2="631.8" y2="281.7"/>
<line x1="44.15" y1="407.4" x2="50.15" y2="407.4"/>
<line x1="638.3" y1="407.4" x2="632.3" y2="407.4"/>
<line x1="44.15" y1="424.25" x2="50.15" y2="424.25"/>
<line x1="638.3" y1="424.25" x2="632.3" y2="424.25"/>
<line x1="44.15" y1="441.1" x2="50.15" y2="441.1"/>
<line x1="638.3" y1="441.1" x2="632.3" y2="441.1"/>
<line x1="44.15" y1="457.95" x2="50.15" y2="457.95"/>
<line x1="638.3" y1="457.95" x2="632.3" y2="457.95"/>
<line x1="44.15" y1="474.8" x2="50.15" y2="474.8"/>
<line x1="638.3" y1="474.8" x2="632.3" y2="474.8"/>
<line x1="44.15" y1="491.65" x2="50.15" y2="491.65"/>
<line x1="638.3" y1="491.65" x2="632.3" y2="491.65"/>
<line x1="44.15" y1="508.5" x2="50.15" y2="508.5"/>
<line x1="638.3" y1="508.5" x2="632.3" y2="508.5"/>
</g>
<text transform="translate(40.4 26.3) scale(1.045 1)" text-anchor="end">0.6</text>
<text transform="translate(40.4 62.8) scale(1.045 1)" text-anchor="end">0.4</text>
<text transform="translate(40.4 99.8) scale(1.045 1)" text-anchor="end">0.2</text>
<text transform="translate(40.4 138.1) scale(1.045 1)" text-anchor="end">0</text>
<text transform="translate(40.4 180.7) scale(1.045 1)" text-anchor="end">4</text>
<text transform="translate(40.4 224.3) scale(1.045 1)" text-anchor="end">2</text>
<text transform="translate(40.4 266.3) scale(1.045 1)" text-anchor="end">0</text>
<text transform="translate(40.8 311.8) scale(1.045 1)" text-anchor="end">20</text>
<text transform="translate(40.8 355.6) scale(1.045 1)" text-anchor="end">10</text>
<text transform="translate(40.8 398.6) scale(1.045 1)" text-anchor="end">0</text>
<text transform="translate(40.3 410.9) scale(1.045 1)" text-anchor="end">NW</text>
<text transform="translate(40.3 427.75) scale(1.045 1)" text-anchor="end">W</text>
<text transform="translate(40.3 444.6) scale(1.045 1)" text-anchor="end">SW</text>
<text transform="translate(40.3 461.45) scale(1.045 1)" text-anchor="end">S</text>
<text transform="translate(40.3 478.3) scale(1.045 1)" text-anchor="end">SE</text>
<text transform="translate(40.3 495.15) scale(1.045 1)" text-anchor="end">E</text>
<text transform="translate(40.3 512) scale(1.045 1)" text-anchor="end">NE</text>
<text transform="translate(40.3 528.85) scale(1.045 1)" text-anchor="end">N</text>
<text transform="translate(642.3 23.8) scale(1.020 1)">1700</text>
<text transform="translate(642.3 62.1) scale(1.020 1)">1660</text>
<text transform="translate(642.3 99.1) scale(1.020 1)">1620</text>
<text transform="translate(642.3 136.3) scale(1.020 1)">1580</text>
<text transform="translate(642.5 154.1) scale(1.020 1)">60</text>
<text transform="translate(642.5 191.5) scale(1.020 1)">40</text>
<text transform="translate(642.5 228.6) scale(1.020 1)">20</text>
<text transform="translate(642.5 266.6) scale(1.020 1)">0</text>
<text transform="translate(642.5 285.3) scale(1.020 1)">3</text>
<text transform="translate(642.5 323.2) scale(1.020 1)">2</text>
<text transform="translate(642.5 361.1) scale(1.020 1)">1</text>
<text transform="translate(642.5 397.9) scale(1.020 1)">0</text>
<text transform="translate(642.2 530) scale(1.020 1)">1720</text>
<text transform="translate(44.15 544.8) scale(1.045 1)" text-anchor="middle">86</text>
<text transform="translate(67.99 544.8) scale(1.045 1)" text-anchor="middle">87</text>
<text transform="translate(91.83 544.8) scale(1.045 1)" text-anchor="middle">88</text>
<text transform="translate(115.67 544.8) scale(1.045 1)" text-anchor="middle">89</text>
<text transform="translate(139.51 544.8) scale(1.045 1)" text-anchor="middle">90</text>
<text transform="translate(163.35 544.8) scale(1.045 1)" text-anchor="middle">91</text>
<text transform="translate(187.19 544.8) scale(1.045 1)" text-anchor="middle">92</text>
<text transform="translate(211.03 544.8) scale(1.045 1)" text-anchor="middle">93</text>
<text transform="translate(234.87 544.8) scale(1.045 1)" text-anchor="middle">94</text>
<text transform="translate(258.71 544.8) scale(1.045 1)" text-anchor="middle">95</text>
<text transform="translate(282.55 544.8) scale(1.045 1)" text-anchor="middle">96</text>
<text transform="translate(306.39 544.8) scale(1.045 1)" text-anchor="middle">97</text>
<text transform="translate(330.23 544.8) scale(1.045 1)" text-anchor="middle">98</text>
<text transform="translate(354.07 544.8) scale(1.045 1)" text-anchor="middle">99</text>
<text transform="translate(377.91 544.8) scale(1.045 1)" text-anchor="middle">00</text>
<text transform="translate(401.75 544.8) scale(1.045 1)" text-anchor="middle">01</text>
<text transform="translate(425.59 544.8) scale(1.045 1)" text-anchor="middle">02</text>
<text transform="translate(449.43 544.8) scale(1.045 1)" text-anchor="middle">03</text>
<text transform="translate(473.27 544.8) scale(1.045 1)" text-anchor="middle">04</text>
<text transform="translate(497.11 544.8) scale(1.045 1)" text-anchor="middle">05</text>
<text transform="translate(520.95 544.8) scale(1.045 1)" text-anchor="middle">06</text>
<text transform="translate(544.79 544.8) scale(1.045 1)" text-anchor="middle">07</text>
<text transform="translate(568.63 544.8) scale(1.045 1)" text-anchor="middle">08</text>
<text transform="translate(592.47 544.8) scale(1.045 1)" text-anchor="middle">09</text>
<text transform="translate(616.31 544.8) scale(1.045 1)" text-anchor="middle">10</text>
<text transform="translate(312.3 558.6) scale(1.045 1)" text-anchor="middle">Year</text>
<text transform="translate(629.4 15.4) scale(1.000 1)" text-anchor="end" font-size="18.2" font-weight="bold" fill="#333333" style="stroke:#333333;stroke-width:0.3px">a</text>
<text transform="translate(630.5 156.3) scale(1.080 1)" text-anchor="end" font-size="19.5" font-weight="bold" fill="#333333" style="stroke:#333333;stroke-width:0.3px">b</text>
<text transform="translate(630.5 284.2) scale(1.080 1)" text-anchor="end" font-size="19.5" font-weight="bold" fill="#333333" style="stroke:#333333;stroke-width:0.3px">c</text>
<text transform="translate(631.3 419.2) scale(1.080 1)" text-anchor="end" font-size="19.5" font-weight="bold" fill="#333333" style="stroke:#333333;stroke-width:0.3px">d</text>
<text transform="translate(11.3 67.9) rotate(-90) scale(1.035 1)" text-anchor="middle">Discharge rate (m<tspan font-size="5.5" dy="-5">3</tspan><tspan dy="5">s</tspan><tspan font-size="5.5" dy="-5">-1</tspan><tspan dy="5">)</tspan></text>
<text transform="translate(10.3 197.1) rotate(-90) scale(1.030 1)" text-anchor="middle">Number of</text>
<text transform="translate(23 197.4) rotate(-90) scale(1.030 1)" text-anchor="middle">explosions per hour</text>
<text transform="translate(10 327.7) rotate(-90) scale(1.030 1)" text-anchor="middle">Number of pyroclastic</text>
<text transform="translate(23.4 328.2) rotate(-90) scale(1.030 1)" text-anchor="middle">density currents</text>
<text transform="translate(9.7 455.4) rotate(-90) scale(1.030 1)" text-anchor="middle">Flank</text>
<text transform="translate(675.9 61.9) rotate(90) scale(1.030 1)" text-anchor="middle">Altitude [m a.s.l.]</text>
<text transform="translate(674.5 190.2) rotate(90) scale(1.043 1)" text-anchor="middle">Ash fall [gm<tspan font-size="5.5" dy="-5">-2</tspan><tspan dy="5"> day</tspan><tspan font-size="5.5" dy="-5">-1</tspan><tspan dy="5">]</tspan></text>
<text transform="translate(675.4 331.1) rotate(90) scale(1.040 1)" text-anchor="middle">Length max. [km]</text>
<line x1="410.2" y1="80.0" x2="432.9" y2="80.0" stroke="#000" stroke-width="1.6"/>
<line x1="410.2" y1="92.3" x2="432.9" y2="92.3" stroke="#ff0000" stroke-width="1.6"/>
<line x1="410.2" y1="104.6" x2="432.9" y2="104.6" stroke="#0a0aff" stroke-width="1.5" stroke-dasharray="4.3 2"/>
<text transform="translate(436.7 84.2) scale(1.020 1)" font-size="11" fill="#383838" style="stroke-width:0.12px">Discharge rate.</text>
<text transform="translate(437.1 96.5) scale(1.010 1)" font-size="11" fill="#383838" style="stroke-width:0.12px">Crater C elevation (Wadge et al. 2006).</text>
<text transform="translate(437.1 108.8) scale(1.010 1)" font-size="11" fill="#383838" style="stroke-width:0.12px">Crater C elevation corrected.</text>
<text transform="translate(549.8 15.6) scale(1.070 1)" font-size="11.5" fill="#ff0000" style="stroke:none">No data</text>
<rect x="67.3" y="152.3" width="5.3" height="8.3" fill="#c9c9c9" stroke="#444" stroke-width="0.9"/>
<text transform="translate(79.1 160.8) scale(1.005 1)" font-size="11" fill="#383838" style="stroke-width:0.12px">Explosions</text>
<rect x="66.8" y="167.9" width="7" height="3" fill="#ff0000"/>
<text transform="translate(79.7 172.8) scale(1.005 1)" font-size="11" fill="#383838" style="stroke-width:0.12px">Ash fall</text>
<rect x="67" y="279.1" width="8.2" height="8.0" fill="#c9c9c9" stroke="#333" stroke-width="0.9"/>
<text transform="translate(79.1 286.7) scale(1.005 1)" font-size="11" fill="#383838" style="stroke-width:0.12px">Number</text>
<line x1="71.1" y1="292.4" x2="71.1" y2="299.8" stroke="#0a0aff" stroke-width="1.8"/>
<circle cx="71.1" cy="292.4" r="2.95" fill="#0a0aff"/>
<text transform="translate(79.1 298.8) scale(1.005 1)" font-size="11" fill="#383838" style="stroke-width:0.12px">Length</text>
</svg>
</body>
</html>
